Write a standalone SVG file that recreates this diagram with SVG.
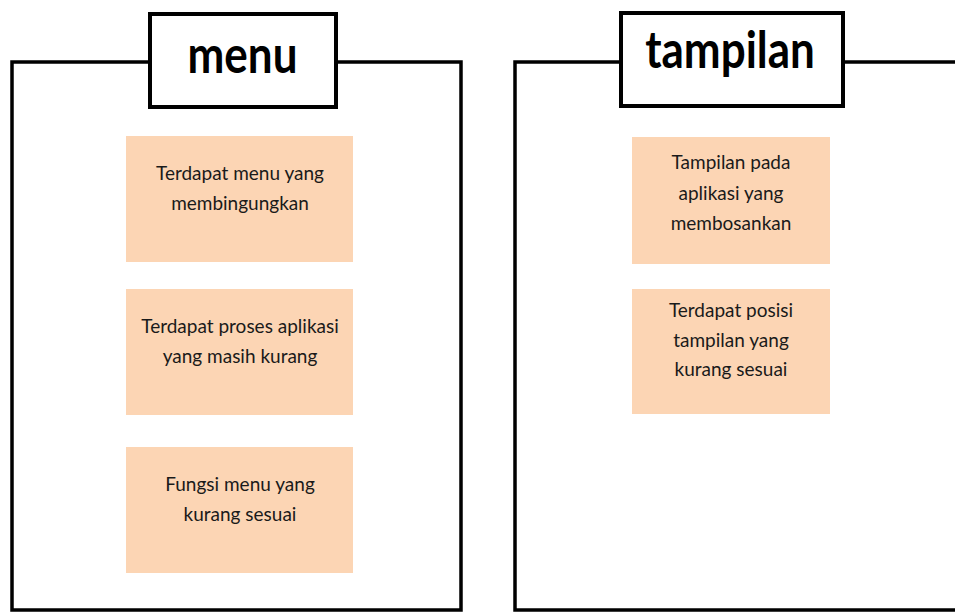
<svg xmlns="http://www.w3.org/2000/svg" width="955" height="612" viewBox="0 0 955 612">
  <style>
    .frame { fill: none; stroke: #000; stroke-width: 3.5; }
    .title-box { fill: #fff; stroke: #000; stroke-width: 4; }
    .title { font-family: Lato, "Open Sans", sans-serif; font-weight: bold; font-size: 44px; fill: #000; text-anchor: middle; }
    .card { fill: #FCD5B4; }
    .label { font-family: Lato, "Noto Sans", sans-serif; font-size: 19px; fill: #1a1a1a; text-anchor: middle; }
  </style>
  <rect x="0" y="0" width="955" height="612" fill="#fff"/>

  <g id="panel-menu">
    <path class="frame" d="M150,62 H12 V610 H461 V62 H336"/>
  </g>
  <g id="title-menu">
    <rect class="title-box" x="150" y="14" width="186" height="93"/>
    <text class="title" transform="translate(242.5,73) scale(1,1.18)" x="0" y="0">menu</text>
  </g>

  <g id="panel-tampilan">
    <path class="frame" d="M621,62 H515 V610 H960 M843,62 H960"/>
  </g>
  <g id="title-tampilan">
    <rect class="title-box" x="621" y="13" width="222" height="93"/>
    <text class="title" transform="translate(730,68) scale(1,1.18)" x="0" y="0">tampilan</text>
  </g>

  <g id="card-menu-1">
    <rect class="card" x="126" y="136" width="227" height="126"/>
    <text class="label" x="240" y="180">Terdapat menu yang</text>
    <text class="label" x="240" y="210">membingungkan</text>
  </g>
  <g id="card-menu-2">
    <rect class="card" x="126" y="289" width="227" height="126"/>
    <text class="label" x="240" y="333">Terdapat proses aplikasi</text>
    <text class="label" x="240" y="363">yang masih kurang</text>
  </g>
  <g id="card-menu-3">
    <rect class="card" x="126" y="447" width="227" height="126"/>
    <text class="label" x="240" y="491">Fungsi menu yang</text>
    <text class="label" x="240" y="521">kurang sesuai</text>
  </g>

  <g id="card-tampilan-1">
    <rect class="card" x="632" y="137" width="198" height="127"/>
    <text class="label" x="731" y="169">Tampilan pada</text>
    <text class="label" x="731" y="200">aplikasi yang</text>
    <text class="label" x="731" y="230">membosankan</text>
  </g>
  <g id="card-tampilan-2">
    <rect class="card" x="632" y="289" width="198" height="125"/>
    <text class="label" x="731" y="317">Terdapat posisi</text>
    <text class="label" x="731" y="347">tampilan yang</text>
    <text class="label" x="731" y="376">kurang sesuai</text>
  </g>
</svg>
